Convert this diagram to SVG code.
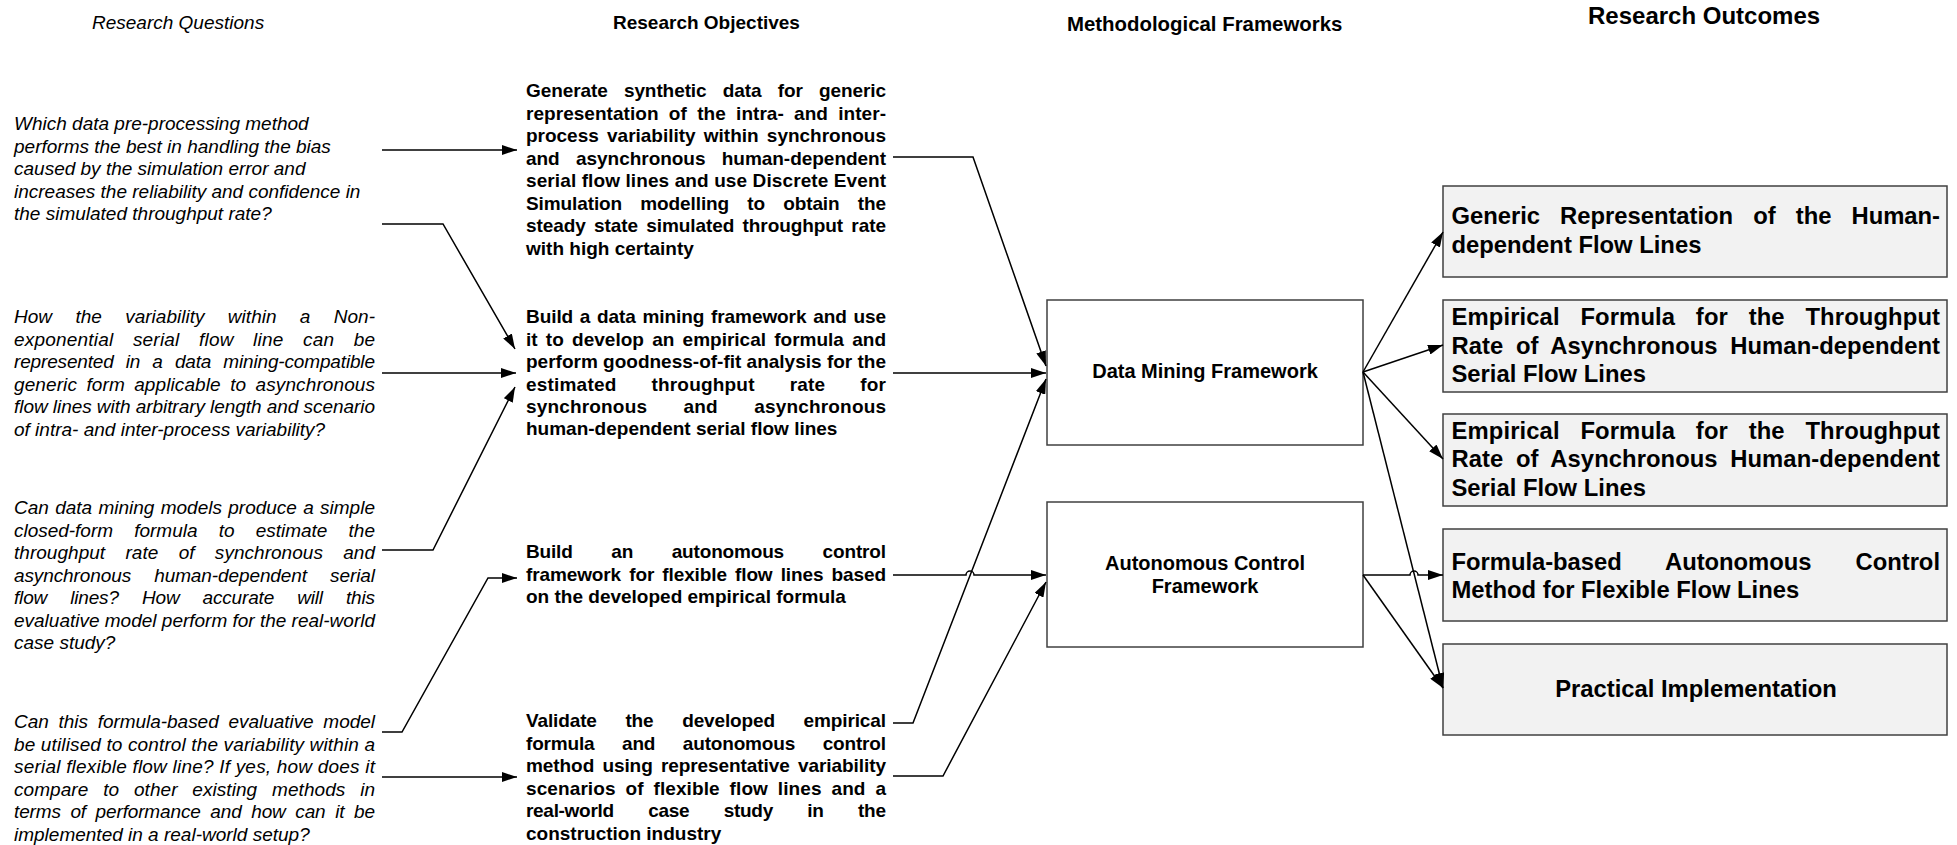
<svg xmlns="http://www.w3.org/2000/svg" width="1957" height="845" viewBox="0 0 1957 845">
  <style>
    .hd { font-family: "Liberation Sans", Arial, sans-serif; fill: #000; }
    .q { font-family: "Liberation Sans", Arial, sans-serif; font-style: italic; font-size: 19px; fill: #000; }
    .o { font-family: "Liberation Sans", Arial, sans-serif; font-weight: bold; font-size: 19px; fill: #000; }
    .r { font-family: "Liberation Sans", Arial, sans-serif; font-weight: bold; font-size: 23.8px; fill: #000; }
    .f { font-family: "Liberation Sans", Arial, sans-serif; font-weight: bold; font-size: 20px; fill: #000; text-anchor: middle; }
    .frame { fill: #ffffff; stroke: #404040; stroke-width: 1.5; }
    .out { fill: #f2f2f2; stroke: #404040; stroke-width: 1.5; }
    .link { fill: none; stroke: #000; stroke-width: 1.5; marker-end: url(#arrow); }
  </style>
  <defs>
    <marker id="arrow" markerUnits="userSpaceOnUse" markerWidth="15" markerHeight="10" refX="15" refY="5" orient="auto">
      <path d="M0,0 L15,5 L0,10 z" fill="#000"/>
    </marker>
  </defs>

  <rect width="1957" height="845" fill="#ffffff"/>

  <!-- column headings -->
  <g id="headings">
    <text class="hd" x="92" y="29" font-size="19" font-style="italic">Research Questions</text>
    <text class="hd" x="613" y="29" font-size="19" font-weight="bold">Research Objectives</text>
    <text class="hd" x="1067" y="30.5" font-size="20.4" font-weight="bold">Methodological Frameworks</text>
    <text class="hd" x="1588" y="24" font-size="24" font-weight="bold">Research Outcomes</text>
  </g>

  <!-- research questions -->
  <g id="question-1">
    <text class="q" x="14" y="130">Which data pre-processing method</text>
    <text class="q" x="14" y="152.5">performs the best in handling the bias</text>
    <text class="q" x="14" y="175">caused by the simulation error and</text>
    <text class="q" x="14" y="197.5">increases the reliability and confidence in</text>
    <text class="q" x="14" y="220">the simulated throughput rate?</text>
  </g>
  <g id="question-2">
    <text class="q" x="14" y="323" textLength="361" lengthAdjust="spacing" style="word-spacing:18px">How the variability within a Non-</text>
    <text class="q" x="14" y="345.5" textLength="361" lengthAdjust="spacing" style="word-spacing:14px">exponential serial flow line can be</text>
    <text class="q" x="14" y="368" textLength="361" lengthAdjust="spacing" style="word-spacing:7px">represented in a data mining-compatible</text>
    <text class="q" x="14" y="390.5" textLength="361" lengthAdjust="spacing" style="word-spacing:4px">generic form applicable to asynchronous</text>
    <text class="q" x="14" y="413" textLength="361" lengthAdjust="spacing">flow lines with arbitrary length and scenario</text>
    <text class="q" x="14" y="435.5">of intra- and inter-process variability?</text>
  </g>
  <g id="question-3">
    <text class="q" x="14" y="514" textLength="361" lengthAdjust="spacing" style="word-spacing:1px">Can data mining models produce a simple</text>
    <text class="q" x="14" y="536.5" textLength="361" lengthAdjust="spacing" style="word-spacing:16px">closed-form formula to estimate the</text>
    <text class="q" x="14" y="559" textLength="361" lengthAdjust="spacing" style="word-spacing:15px">throughput rate of synchronous and</text>
    <text class="q" x="14" y="581.5" textLength="361" lengthAdjust="spacing" style="word-spacing:18px">asynchronous human-dependent serial</text>
    <text class="q" x="14" y="604" textLength="361" lengthAdjust="spacing" style="word-spacing:18px">flow lines? How accurate will this</text>
    <text class="q" x="14" y="626.5" textLength="361" lengthAdjust="spacing">evaluative model perform for the real-world</text>
    <text class="q" x="14" y="649">case study?</text>
  </g>
  <g id="question-4">
    <text class="q" x="14" y="728" textLength="361" lengthAdjust="spacing" style="word-spacing:4.5px">Can this formula-based evaluative model</text>
    <text class="q" x="14" y="750.5" textLength="361" lengthAdjust="spacing">be utilised to control the variability within a</text>
    <text class="q" x="14" y="773" textLength="361" lengthAdjust="spacing">serial flexible flow line? If yes, how does it</text>
    <text class="q" x="14" y="795.5" textLength="361" lengthAdjust="spacing" style="word-spacing:9.5px">compare to other existing methods in</text>
    <text class="q" x="14" y="818" textLength="361" lengthAdjust="spacing" style="word-spacing:4.5px">terms of performance and how can it be</text>
    <text class="q" x="14" y="840.5">implemented in a real-world setup?</text>
  </g>

  <!-- research objectives -->
  <g id="objective-1">
    <text class="o" x="526" y="97" textLength="360" lengthAdjust="spacing" style="word-spacing:11px">Generate synthetic data for generic</text>
    <text class="o" x="526" y="119.5" textLength="360" lengthAdjust="spacing" style="word-spacing:5px">representation of the intra- and inter-</text>
    <text class="o" x="526" y="142" textLength="360" lengthAdjust="spacing" style="word-spacing:3px">process variability within synchronous</text>
    <text class="o" x="526" y="164.5" textLength="360" lengthAdjust="spacing" style="word-spacing:11px">and asynchronous human-dependent</text>
    <text class="o" x="526" y="187" textLength="360" lengthAdjust="spacing">serial flow lines and use Discrete Event</text>
    <text class="o" x="526" y="209.5" textLength="360" lengthAdjust="spacing" style="word-spacing:13px">Simulation modelling to obtain the</text>
    <text class="o" x="526" y="232" textLength="360" lengthAdjust="spacing" style="word-spacing:3px">steady state simulated throughput rate</text>
    <text class="o" x="526" y="254.5">with high certainty</text>
  </g>
  <g id="objective-2">
    <text class="o" x="526" y="323" textLength="360" lengthAdjust="spacing" style="word-spacing:1.5px">Build a data mining framework and use</text>
    <text class="o" x="526" y="345.5" textLength="360" lengthAdjust="spacing" style="word-spacing:3px">it to develop an empirical formula and</text>
    <text class="o" x="526" y="368" textLength="360" lengthAdjust="spacing">perform goodness-of-fit analysis for the</text>
    <text class="o" x="526" y="390.5" textLength="360" lengthAdjust="spacing" style="word-spacing:29.5px">estimated throughput rate for</text>
    <text class="o" x="526" y="413" textLength="360" lengthAdjust="spacing" style="word-spacing:31px">synchronous and asynchronous</text>
    <text class="o" x="526" y="435">human-dependent serial flow lines</text>
  </g>
  <g id="objective-3">
    <text class="o" x="526" y="558" textLength="360" lengthAdjust="spacing" style="word-spacing:33.5px">Build an autonomous control</text>
    <text class="o" x="526" y="580.5" textLength="360" lengthAdjust="spacing" style="word-spacing:3px">framework for flexible flow lines based</text>
    <text class="o" x="526" y="603">on the developed empirical formula</text>
  </g>
  <g id="objective-4">
    <text class="o" x="526" y="727" textLength="360" lengthAdjust="spacing" style="word-spacing:23.5px">Validate the developed empirical</text>
    <text class="o" x="526" y="749.5" textLength="360" lengthAdjust="spacing" style="word-spacing:22.5px">formula and autonomous control</text>
    <text class="o" x="526" y="772" textLength="360" lengthAdjust="spacing" style="word-spacing:3px">method using representative variability</text>
    <text class="o" x="526" y="794.5" textLength="360" lengthAdjust="spacing" style="word-spacing:4.5px">scenarios of flexible flow lines and a</text>
    <text class="o" x="526" y="817" textLength="360" lengthAdjust="spacing" style="word-spacing:29.5px">real-world case study in the</text>
    <text class="o" x="526" y="839.5">construction industry</text>
  </g>

  <!-- methodological frameworks -->
  <g id="data-mining-framework">
    <rect class="frame" x="1047" y="300" width="316" height="145"/>
    <text class="f" x="1205" y="378">Data Mining Framework</text>
  </g>
  <g id="autonomous-control-framework">
    <rect class="frame" x="1047" y="502" width="316" height="145"/>
    <text class="f" x="1205" y="570">Autonomous Control</text>
    <text class="f" x="1205" y="593">Framework</text>
  </g>

  <!-- research outcomes -->
  <g id="outcome-1">
    <rect class="out" x="1443" y="186" width="504" height="91"/>
    <text class="r" x="1451.5" y="224" textLength="488.5" lengthAdjust="spacing" style="word-spacing:13.5px">Generic Representation of the Human-</text>
    <text class="r" x="1451.5" y="253">dependent Flow Lines</text>
  </g>
  <g id="outcome-2">
    <rect class="out" x="1443" y="300" width="504" height="92"/>
    <text class="r" x="1451.5" y="325" textLength="488.5" lengthAdjust="spacing" style="word-spacing:14px">Empirical Formula for the Throughput</text>
    <text class="r" x="1451.5" y="353.5" textLength="488.5" lengthAdjust="spacing" style="word-spacing:6px">Rate of Asynchronous Human-dependent</text>
    <text class="r" x="1451.5" y="382">Serial Flow Lines</text>
  </g>
  <g id="outcome-3">
    <rect class="out" x="1443" y="414" width="504" height="92"/>
    <text class="r" x="1451.5" y="438.5" textLength="488.5" lengthAdjust="spacing" style="word-spacing:14px">Empirical Formula for the Throughput</text>
    <text class="r" x="1451.5" y="467" textLength="488.5" lengthAdjust="spacing" style="word-spacing:6px">Rate of Asynchronous Human-dependent</text>
    <text class="r" x="1451.5" y="495.5">Serial Flow Lines</text>
  </g>
  <g id="outcome-4">
    <rect class="out" x="1443" y="529" width="504" height="92"/>
    <text class="r" x="1451.5" y="570" textLength="488.5" lengthAdjust="spacing" style="word-spacing:37.5px">Formula-based Autonomous Control</text>
    <text class="r" x="1451.5" y="598">Method for Flexible Flow Lines</text>
  </g>
  <g id="outcome-5">
    <rect class="out" x="1443" y="644" width="504" height="91"/>
    <text class="r" x="1696" y="697" text-anchor="middle">Practical Implementation</text>
  </g>

  <!-- connectors -->
  <g id="connectors">
    <!-- questions to objectives -->
    <path class="link" d="M382,150 H517"/>
    <path class="link" d="M382,224 H443 L515,349"/>
    <path class="link" d="M382,373 H516"/>
    <path class="link" d="M382,550 H433 L515,387"/>
    <path class="link" d="M382,732 H402 L488,578 H517"/>
    <path class="link" d="M382,777 H517"/>
    <!-- objectives to frameworks -->
    <path class="link" d="M893,157 H973 L1046,366"/>
    <path class="link" d="M893,373 H1046"/>
    <path class="link" d="M893,723 H913 L1046,379"/>
    <path class="link" d="M893,575 H966 a4,4 0 0 1 8,0 H1046"/>
    <path class="link" d="M893,776 H943 L1046,582"/>
    <!-- frameworks to outcomes -->
    <path class="link" d="M1363,372 L1443,232"/>
    <path class="link" d="M1363,372 L1443,345"/>
    <path class="link" d="M1363,372 L1443,459"/>
    <path class="link" d="M1363,372 L1443,688"/>
    <path class="link" d="M1363,575 H1410 a4,4 0 0 1 8,0 H1443"/>
    <path class="link" d="M1363,575 L1443,688"/>
  </g>
</svg>
